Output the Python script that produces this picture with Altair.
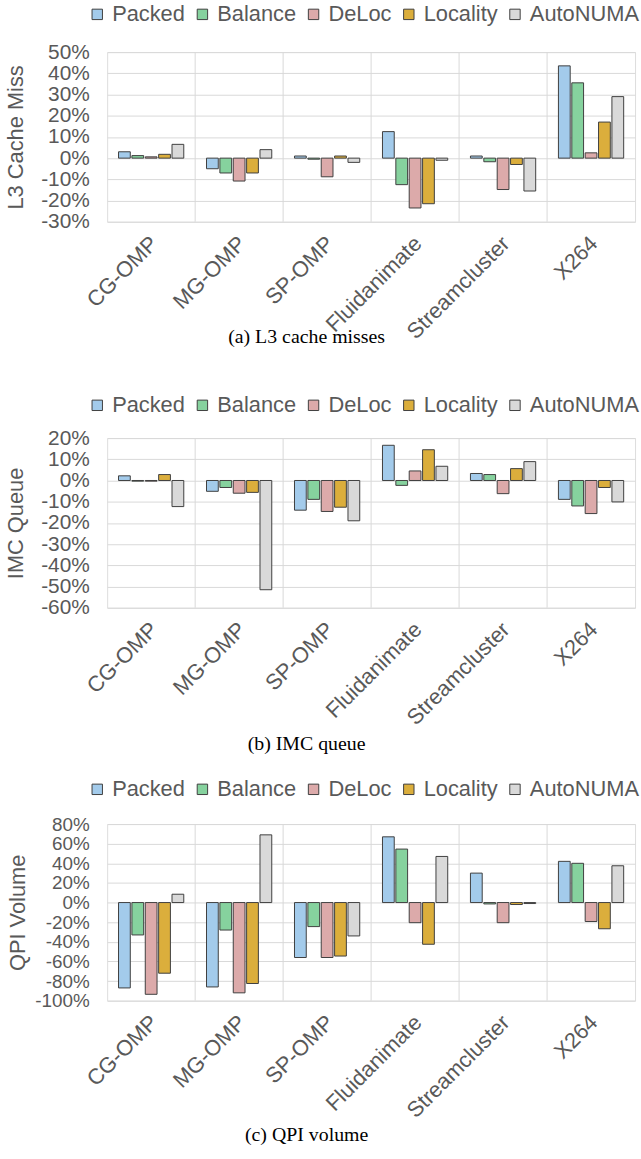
import altair as alt
import pandas as pd

# Benchmarks on the x axis and the thread-placement policies in each group
benchmarks = ["CG-OMP", "MG-OMP", "SP-OMP", "Fluidanimate", "Streamcluster", "X264"]
policies = ["Packed", "Balance", "DeLoc", "Locality", "AutoNUMA"]
policy_colors = ["#a3cbeb", "#86d29e", "#dcaaaa", "#dbae3c", "#d9d9d9"]

# (a) L3 cache misses, % change per policy (one list per policy, in benchmark order)
l3_packed = [3, -5, 1, 12.5, 1, 43.5]
l3_balance = [1.2, -7, -0.5, -12.5, -1.7, 35.5]
l3_deloc = [0.6, -10.8, -8.8, -23.5, -14.8, 2.5]
l3_locality = [1.8, -7, 1, -21.5, -3, 17]
l3_autonuma = [6.5, 4, -2, -1, -15.5, 29]

# (b) IMC queue, % change
imc_packed = [2.2, -5.1, -14, 16.6, 3.3, -8.9]
imc_balance = [-0.3, -3.3, -8.9, -2.3, 2.8, -12]
imc_deloc = [-0.3, -6, -14.6, 4.5, -6.2, -15.6]
imc_locality = [2.8, -5.6, -12.6, 14.5, 5.6, -3.3]
imc_autonuma = [-12.3, -51.5, -19, 6.7, 8.9, -10.1]

# (c) QPI volume, % change
qpi_packed = [-87, -86, -56, 67, 30, 42]
qpi_balance = [-33, -28, -24.5, 54.5, -1.4, 40]
qpi_deloc = [-93.5, -92, -56, -20.5, -20.5, -19.3]
qpi_locality = [-72, -82.5, -54.5, -42.5, -2, -26.7]
qpi_autonuma = [8.5, 69, -34, 47, -1, 37.5]

# Axis tick values for each panel
l3_ticks = [-30, -20, -10, 0, 10, 20, 30, 40, 50]
imc_ticks = [-60, -50, -40, -30, -20, -10, 0, 10, 20]
qpi_ticks = [-100, -80, -60, -40, -20, 0, 20, 40, 60, 80]

FONT = "Liberation Sans"
TEXT = "#595959"
GRID = "#d9d9d9"
PLOT_W = 532


def long_table(series):
    rows = []
    for pol, vals in zip(policies, series):
        for bench, v in zip(benchmarks, vals):
            rows.append({"bench": bench, "policy": pol, "value": v})
    return pd.DataFrame(rows)


def panel(series, ticks, height, y_title, caption, legend_y, title_pad,
          tick_font, caption_offset):
    df = long_table(series)
    x_axis = alt.Axis(
        title=None, labelAngle=-45, labelAlign="right", labelBaseline="middle",
        labelFontSize=22, labelColor=TEXT, labelFont=FONT, ticks=False,
        domain=False, grid=False, labelPadding=18, labelOffset=3,
    )
    x_scale = alt.Scale(domain=benchmarks, paddingInner=0, paddingOuter=0)

    bars = alt.Chart(df).mark_bar(stroke="#404040", strokeWidth=1).encode(
        x=alt.X("bench:N", scale=x_scale, axis=x_axis),
        xOffset=alt.XOffset(
            "policy:N", sort=policies,
            scale=alt.Scale(domain=policies, paddingInner=0.12, paddingOuter=0.85),
        ),
        y=alt.Y(
            "value:Q",
            scale=alt.Scale(domain=[ticks[0], ticks[-1]], nice=False, zero=False),
            axis=alt.Axis(
                title=y_title, values=ticks, labelExpr="datum.value + '%'",
                labelFontSize=tick_font, labelColor=TEXT, labelFont=FONT,
                labelOverlap=False, labelPadding=18, ticks=False, tickSize=0,
                domain=False, grid=True, gridColor=GRID, gridWidth=1,
                titleFontSize=22, titleFont=FONT, titleColor=TEXT,
                titleFontWeight="normal", titlePadding=title_pad,
            ),
        ),
        color=alt.Color(
            "policy:N",
            scale=alt.Scale(domain=policies, range=policy_colors),
            legend=alt.Legend(
                title=None, orient="none", legendX=-21, legendY=legend_y,
                direction="horizontal", symbolType="square", symbolSize=110,
                symbolStrokeColor="#404040", symbolStrokeWidth=1,
                labelFontSize=22, labelFont=FONT, labelColor=TEXT,
                labelOffset=4, columnPadding=6,
            ),
        ),
    )

    # vertical separators between benchmark groups
    seps = alt.Chart(pd.DataFrame({"bench": benchmarks[1:]})).mark_rule(
        color=GRID, strokeWidth=1
    ).encode(x=alt.X("bench:N", scale=x_scale, axis=x_axis, bandPosition=0))

    return alt.layer(seps, bars).properties(
        width=PLOT_W,
        height=height,
        title=alt.TitleParams(
            caption, orient="bottom", font="Liberation Serif", fontSize=20,
            fontWeight="normal", color="black", anchor="middle", dx=-65,
            offset=caption_offset,
        ),
    )


chart_a = panel(
    [l3_packed, l3_balance, l3_deloc, l3_locality, l3_autonuma],
    l3_ticks, 171, "L3 Cache Miss", "(a) L3 cache misses", -49, 13, 21, -16,
)
chart_b = panel(
    [imc_packed, imc_balance, imc_deloc, imc_locality, imc_autonuma],
    imc_ticks, 171, "IMC Queue", "(b) IMC queue", -44, 13, 21, 6,
)
chart_c = panel(
    [qpi_packed, qpi_balance, qpi_deloc, qpi_locality, qpi_autonuma],
    qpi_ticks, 178, "QPI Volume", "(c) QPI volume", -46, 5, 19, 4,
)

top_pair = (
    alt.vconcat(chart_a, chart_b, spacing=46)
    .resolve_scale(color="independent")
    .resolve_legend(color="independent")
)

chart = (
    alt.vconcat(top_pair, chart_c, spacing=22)
    .resolve_scale(color="independent")
    .resolve_legend(color="independent")
    .properties(padding={"left": 4, "top": -2, "right": 0, "bottom": 0})
    .configure_view(stroke=GRID, strokeWidth=1)
    .configure(background="white")
)

chart.save("out.html", embed_options={"renderer": "svg", "actions": False})
